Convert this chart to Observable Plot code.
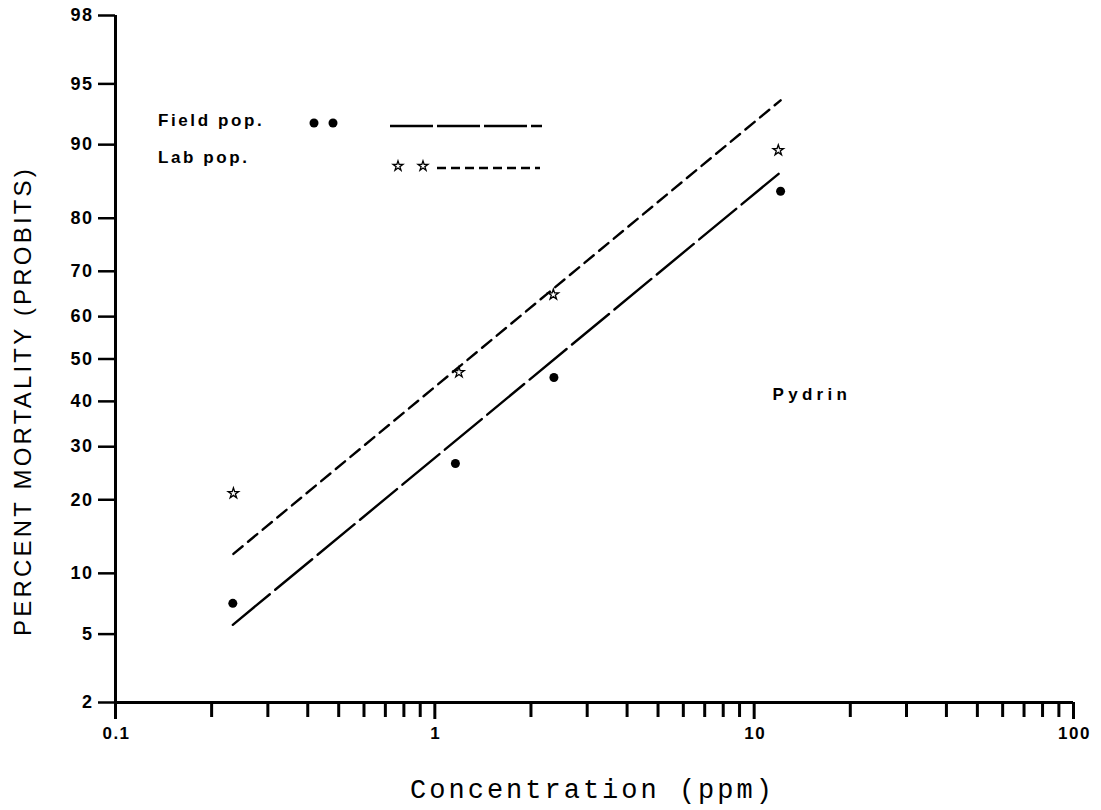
<!DOCTYPE html>
<html>
<head>
<meta charset="utf-8">
<script src="https://cdn.jsdelivr.net/npm/d3@7"></script>
<script src="https://cdn.jsdelivr.net/npm/@observablehq/plot@0.6"></script>
<style>
  html, body { margin: 0; padding: 0; background: #fff; }
  #chart svg { display: block; }
</style>
</head>
<body>
<div id="chart"></div>
<script>
// ---- Data ----
const fieldConc = [0.233, 1.16, 2.36, 12.1];     // ppm
const fieldPct  = [7.2, 26.6, 45.6, 84.2];       // % mortality
const labConc   = [0.234, 1.19, 2.35, 11.9];
const labPct    = [21.1, 46.8, 65.0, 89.4];
// fitted probit lines (end points)
const fieldLineConc = [0.233, 12.1];
const fieldLinePct  = [5.6, 86.8];
const labLineConc   = [0.234, 12.1];
const labLinePct    = [12.2, 93.9];
// axes
const yTicks  = [2, 5, 10, 20, 30, 40, 50, 60, 70, 80, 90, 95, 98];
const xMajor  = [0.1, 1, 10, 100];
const xMinor  = [0.2, 0.3, 0.4, 0.5, 0.6, 0.7, 0.8, 0.9, 2, 3, 4, 5, 6, 7, 8, 9, 20, 30, 40, 50, 60, 70, 80, 90];
const legendLabels = ["Field pop.", "Lab pop."];
const annotation = "Pydrin";

// inverse normal CDF (Acklam) for the probit scale
function probit(p) {
  const a = [-3.969683028665376e+01, 2.209460984245205e+02, -2.759285104469687e+02, 1.383577518672690e+02, -3.066479806614716e+01, 2.506628277459239e+00];
  const b = [-5.447609879822406e+01, 1.615858368580409e+02, -1.556989798598866e+02, 6.680131188771972e+01, -1.328068155288572e+01];
  const c = [-7.784894002430293e-03, -3.223964580411365e-01, -2.400758277161838e+00, -2.549732539343734e+00, 4.374664141464968e+00, 2.938163982698783e+00];
  const d = [7.784695709041462e-03, 3.224671290700398e-01, 2.445134137142996e+00, 3.754408661907416e+00];
  const pl = 0.02425, ph = 1 - pl;
  let q, r;
  if (p < pl) {
    q = Math.sqrt(-2 * Math.log(p));
    return (((((c[0]*q+c[1])*q+c[2])*q+c[3])*q+c[4])*q+c[5]) / ((((d[0]*q+d[1])*q+d[2])*q+d[3])*q+1);
  }
  if (p <= ph) {
    q = p - 0.5; r = q * q;
    return (((((a[0]*r+a[1])*r+a[2])*r+a[3])*r+a[4])*r+a[5])*q / (((((b[0]*r+b[1])*r+b[2])*r+b[3])*r+b[4])*r+1);
  }
  q = Math.sqrt(-2 * Math.log(1 - p));
  return -(((((c[0]*q+c[1])*q+c[2])*q+c[3])*q+c[4])*q+c[5]) / ((((d[0]*q+d[1])*q+d[2])*q+d[3])*q+1);
}
const pr = v => probit(v / 100);

const field = fieldConc.map((c, i) => ({conc: c, pct: fieldPct[i]}));
const lab = labConc.map((c, i) => ({conc: c, pct: labPct[i]}));
const fieldLine = fieldLineConc.map((c, i) => ({conc: c, pct: fieldLinePct[i]}));
const labLine = labLineConc.map((c, i) => ({conc: c, pct: labLinePct[i]}));

const yMin = pr(yTicks[0]), yMax = pr(yTicks[yTicks.length - 1]);

const W = 1101, H = 810;
const mL = 115, mR = 28, mT = 15, mB = 108;
const SANS = "'Liberation Sans', Arial, sans-serif";
const MONO = "'Liberation Mono', 'Courier New', monospace";

// legend drawn inside the plot (render-function mark)
function legendMark() {
  const g = d3.create("svg:g").attr("fill", "black");
  const rows = [
    {label: legendLabels[0], y: mT + 105, dash: "43,4", x1: 390, x2: 542, ly: mT + 111},
    {label: legendLabels[1], y: mT + 142, dash: "9,5", x1: 437, x2: 540, ly: mT + 153}
  ];
  rows.forEach(r => {
    g.append("text").attr("x", 158).attr("y", r.y).attr("dy", "0.35em")
      .attr("text-anchor", "start")
      .attr("font-family", SANS).attr("font-size", 17).attr("font-weight", "bold")
      .attr("letter-spacing", "2.6px").text(r.label);
    g.append("line").attr("x1", r.x1).attr("x2", r.x2).attr("y1", r.ly).attr("y2", r.ly)
      .attr("stroke", "black").attr("stroke-width", 2.5).attr("stroke-dasharray", r.dash);
  });
  [314, 333].forEach(x => g.append("circle").attr("cx", x).attr("cy", mT + 108).attr("r", 4.5));
  const star = d3.symbol(d3.symbolStar, 30)();
  [398, 423].forEach(x => g.append("path").attr("d", star)
    .attr("transform", `translate(${x},${mT + 151})`)
    .attr("fill", "none").attr("stroke", "black").attr("stroke-width", 1.3));
  return g.node();
}

const chart = Plot.plot({
  width: W, height: H,
  marginLeft: mL, marginRight: mR, marginTop: mT, marginBottom: mB,
  style: {fontFamily: SANS, background: "#fff", color: "#000"},
  x: {type: "log", domain: [0.1, 100]},
  y: {domain: [yMin, yMax]},
  marks: [
    // axis lines
    Plot.ruleX([0.1], {y1: yMin, y2: yMax, stroke: "black", strokeWidth: 3}),
    Plot.ruleY([yMin], {x1: 0.1, x2: 100, stroke: "black", strokeWidth: 3}),
    // y ticks
    Plot.axisY(yTicks.map(pr), {tickSize: 17, strokeWidth: 2.5, tickFormat: () => "", label: null}),
    Plot.text(yTicks, {x: 0.1, y: d => pr(d), text: d => String(d), dx: -22, textAnchor: "end",
      fontSize: 18, fontWeight: "bold", fill: "black"}),
    // x ticks
    Plot.axisX(xMajor, {tickSize: 17, strokeWidth: 3, tickFormat: () => "", label: null}),
    Plot.axisX(xMinor, {tickSize: 15, strokeWidth: 3, tickFormat: () => "", label: null}),
    Plot.text(xMajor, {x: d => d, y: yMin, text: d => String(d), dy: 31, dx: 1,
      fontSize: 17, fontWeight: "bold", fill: "black"}),
    // fitted lines
    Plot.line(fieldLine, {x: "conc", y: d => pr(d.pct), stroke: "black", strokeWidth: 2.4, strokeDasharray: "48,7"}),
    Plot.line(labLine, {x: "conc", y: d => pr(d.pct), stroke: "black", strokeWidth: 2.4, strokeDasharray: "12,7"}),
    // observed points
    Plot.dot(field, {x: "conc", y: d => pr(d.pct), r: 4.5, fill: "black", stroke: "none"}),
    Plot.dot(lab, {x: "conc", y: d => pr(d.pct), symbol: "star", r: 3.3, fill: "none", stroke: "black", strokeWidth: 1.3}),
    // annotation
    Plot.text([annotation], {frameAnchor: "top-left", dx: 657, dy: 372, textAnchor: "start",
      fontSize: 17, fontWeight: "bold", fill: "black"}),
    // axis titles
    Plot.text(["PERCENT MORTALITY (PROBITS)"], {frameAnchor: "left", dx: -92, dy: 42, rotate: -90,
      textAnchor: "middle", fontSize: 24, fill: "black"}),
    Plot.text(["Concentration (ppm)"], {frameAnchor: "bottom", dx: -2, dy: 95, textAnchor: "middle",
      fontSize: 27, fontFamily: MONO, fill: "black"}),
    legendMark
  ]
});

// letter spacing styling for the spaced-out texts
const yTickText = new Set(yTicks.map(String));
const xTickText = new Set(xMajor.map(String));
d3.select(chart).selectAll("text").each(function() {
  const t = this.textContent;
  const s = d3.select(this);
  if (t === annotation) s.attr("letter-spacing", "4.3px");
  else if (t === "PERCENT MORTALITY (PROBITS)") s.attr("letter-spacing", "3.2px");
  else if (t === "Concentration (ppm)") s.attr("letter-spacing", "3px");
  else if (yTickText.has(t) || xTickText.has(t)) s.attr("letter-spacing", "1.5px");
});
document.getElementById("chart").append(chart);
</script>
</body>
</html>
